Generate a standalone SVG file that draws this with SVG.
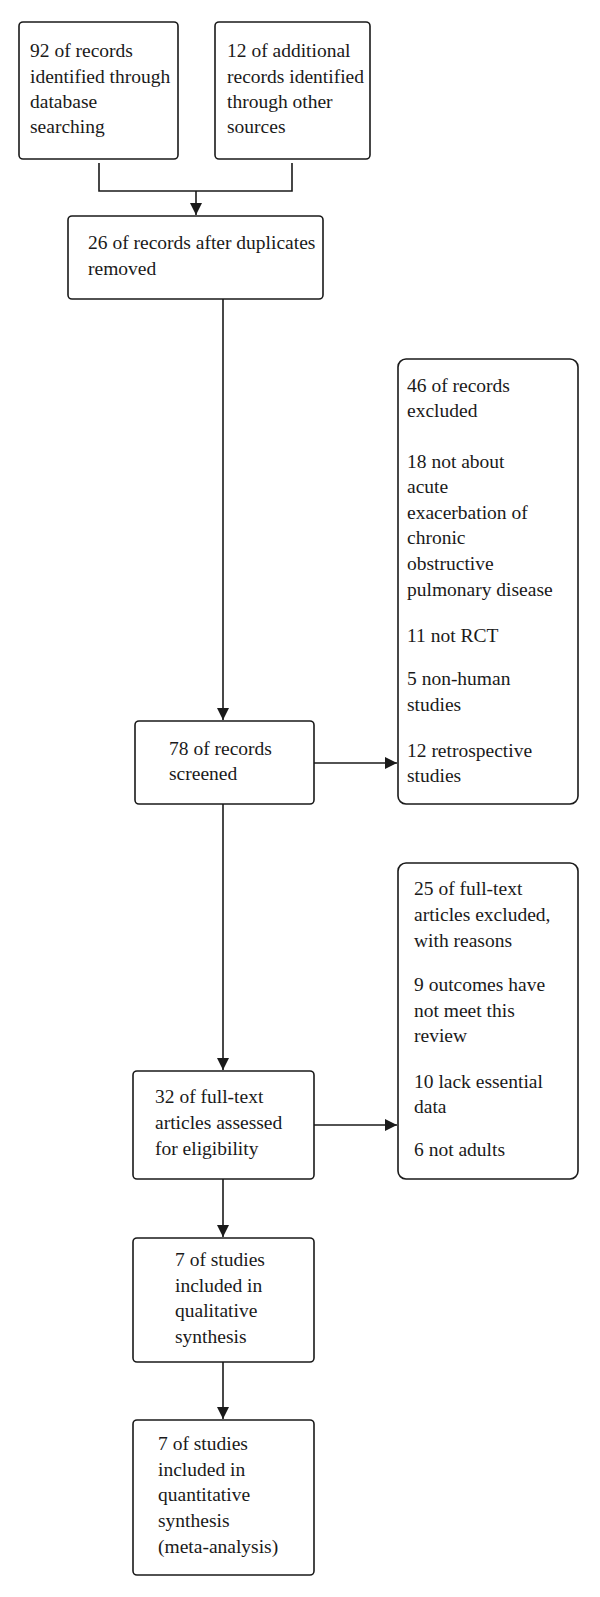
<svg xmlns="http://www.w3.org/2000/svg" width="600" height="1597" viewBox="0 0 600 1597">
<defs>
<style>
.box{fill:#fff;stroke:#1a1a1a;stroke-width:1.6}
.t{font-family:"Liberation Serif","DejaVu Serif",serif;font-size:19.5px;fill:#1a1a1a}
.c{fill:none;stroke:#1a1a1a;stroke-width:1.6}
</style>
<marker id="ah" viewBox="0 0 12 12" refX="12" refY="6" markerWidth="12" markerHeight="12" markerUnits="userSpaceOnUse" orient="auto">
<path d="M0,0 L12,6 L0,12 Z" fill="#1a1a1a"/>
</marker>
</defs>
<rect width="600" height="1597" fill="#fff"/>
<g id="connectors">
<polyline class="c" points="99,163 99,191 292,191 292,163"/>
<line class="c" x1="196" y1="191" x2="196" y2="215" marker-end="url(#ah)"/>
<line class="c" x1="223" y1="299" x2="223" y2="720" marker-end="url(#ah)"/>
<line class="c" x1="314" y1="763" x2="397" y2="763" marker-end="url(#ah)"/>
<line class="c" x1="223" y1="804" x2="223" y2="1070" marker-end="url(#ah)"/>
<line class="c" x1="314" y1="1125" x2="397" y2="1125" marker-end="url(#ah)"/>
<line class="c" x1="223" y1="1179" x2="223" y2="1237" marker-end="url(#ah)"/>
<line class="c" x1="223" y1="1362" x2="223" y2="1419" marker-end="url(#ah)"/>
</g>
<g id="n1">
<rect class="box" x="19" y="22" width="159" height="137" rx="4"/>
<text class="t" x="30" y="57">92 of records</text>
<text class="t" x="30" y="83">identified through</text>
<text class="t" x="30" y="108">database</text>
<text class="t" x="30" y="133">searching</text>
</g>
<g id="n2">
<rect class="box" x="215" y="22" width="155" height="137" rx="4"/>
<text class="t" x="227" y="57">12 of additional</text>
<text class="t" x="227" y="83">records identified</text>
<text class="t" x="227" y="108">through other</text>
<text class="t" x="227" y="133">sources</text>
</g>
<g id="n3">
<rect class="box" x="68" y="216" width="255" height="83" rx="4"/>
<text class="t" x="88" y="249">26 of records after duplicates</text>
<text class="t" x="88" y="275">removed</text>
</g>
<g id="n4">
<rect class="box" x="135" y="721" width="179" height="83" rx="4"/>
<text class="t" x="169" y="755">78 of records</text>
<text class="t" x="169" y="780">screened</text>
</g>
<g id="n5">
<rect class="box" x="398" y="359" width="180" height="445" rx="8"/>
<text class="t" x="407" y="392">46 of records</text>
<text class="t" x="407" y="417">excluded</text>
<text class="t" x="407" y="468">18 not about</text>
<text class="t" x="407" y="493">acute</text>
<text class="t" x="407" y="519">exacerbation of</text>
<text class="t" x="407" y="544">chronic</text>
<text class="t" x="407" y="570">obstructive</text>
<text class="t" x="407" y="596">pulmonary disease</text>
<text class="t" x="407" y="642">11 not RCT</text>
<text class="t" x="407" y="685">5 non-human</text>
<text class="t" x="407" y="711">studies</text>
<text class="t" x="407" y="757">12 retrospective</text>
<text class="t" x="407" y="782">studies</text>
</g>
<g id="n6">
<rect class="box" x="133" y="1071" width="181" height="108" rx="4"/>
<text class="t" x="155" y="1103">32 of full-text</text>
<text class="t" x="155" y="1129">articles assessed</text>
<text class="t" x="155" y="1155">for eligibility</text>
</g>
<g id="n7">
<rect class="box" x="398" y="863" width="180" height="316" rx="8"/>
<text class="t" x="414" y="895">25 of full-text</text>
<text class="t" x="414" y="921">articles excluded,</text>
<text class="t" x="414" y="947">with reasons</text>
<text class="t" x="414" y="991">9 outcomes have</text>
<text class="t" x="414" y="1017">not meet this</text>
<text class="t" x="414" y="1042">review</text>
<text class="t" x="414" y="1088">10 lack essential</text>
<text class="t" x="414" y="1113">data</text>
<text class="t" x="414" y="1156">6 not adults</text>
</g>
<g id="n8">
<rect class="box" x="133" y="1238" width="181" height="124" rx="4"/>
<text class="t" x="175" y="1266">7 of studies</text>
<text class="t" x="175" y="1292">included in</text>
<text class="t" x="175" y="1317">qualitative</text>
<text class="t" x="175" y="1343">synthesis</text>
</g>
<g id="n9">
<rect class="box" x="133" y="1420" width="181" height="155" rx="4"/>
<text class="t" x="158" y="1450">7 of studies</text>
<text class="t" x="158" y="1476">included in</text>
<text class="t" x="158" y="1501">quantitative</text>
<text class="t" x="158" y="1527">synthesis</text>
<text class="t" x="158" y="1553">(meta-analysis)</text>
</g>
</svg>
